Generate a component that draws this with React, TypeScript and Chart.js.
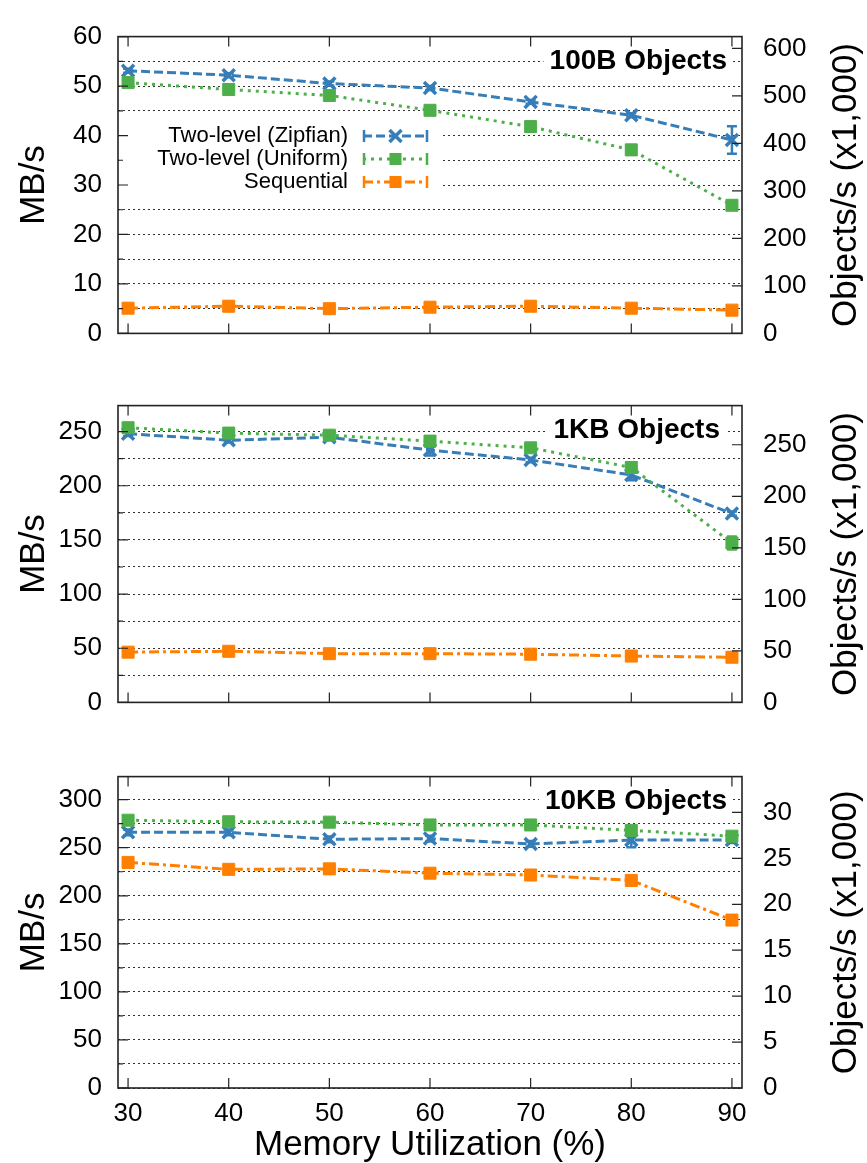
import React, { useEffect, useRef } from 'react';
import { Chart, registerables } from 'chart.js';

Chart.register(...registerables);

const FONT = '"Liberation Sans", Arial, Helvetica, sans-serif';
const W = 867;
const AREA_LEFT = 118;
const AREA_RIGHT = 742;
const AREA_TOP = 21;
const AREA_BOTTOM = 348;

// x axis: memory utilization (%)
const memUtil = [30, 40, 50, 60, 70, 80, 90];
const xMin = 29;
const xMax = 91;
const xTickStep = 10;

const seriesNames = ['Two-level (Zipfian)', 'Two-level (Uniform)', 'Sequential'];
const seriesColors = ['#377eb8', '#4daf4a', '#ff7f00'];

const panelTitles = ['100B Objects', '1KB Objects', '10KB Objects'];
const leftTitle = 'MB/s';
const rightTitle = 'Objects/s (x1,000)';
const xTitle = 'Memory Utilization (%)';

// 100B objects (MB/s)
const zipf100 = [53.1, 52.2, 50.5, 49.6, 46.8, 44.1, 39.1];
const zipf100Err = [0.4, 0.4, 0.4, 0.4, 0.4, 0.4, 2.8];
const unif100 = [50.7, 49.3, 48.1, 45.1, 41.8, 37.1, 25.9];
const unif100Err = [0.4, 0.4, 0.4, 0.4, 0.4, 0.4, 0.4];
const seq100 = [5.1, 5.5, 5.0, 5.3, 5.5, 5.1, 4.7];
const seq100Err = [0.2, 0.2, 0.2, 0.2, 0.2, 0.2, 0.2];

// 1KB objects (MB/s)
const zipf1k = [248, 242, 244.8, 232.9, 223.8, 210, 174.3];
const zipf1kErr = [2, 2, 2, 5, 2, 5, 2];
const unif1k = [253.6, 248.6, 246.7, 241.2, 235, 216.9, 147.2];
const unif1kErr = [2, 2, 2, 2, 2, 2, 6];
const seq1k = [46.4, 47.2, 45, 45, 44.5, 42.8, 41.7];
const seq1kErr = [1, 1, 1, 1, 1, 1, 1];

// 10KB objects (MB/s)
const zipf10k = [266, 266, 258.8, 259.5, 253.9, 258, 258];
const zipf10kErr = [3, 3, 3, 3, 3, 7.4, 3];
const unif10k = [278.6, 277, 276.6, 273.7, 273.7, 268, 262];
const unif10kErr = [2, 2, 2, 3, 2, 2, 2];
const seq10k = [234.7, 227.5, 228, 223.5, 221.6, 216, 174.7];
const seq10kErr = [1, 1, 1, 1, 1, 1, 1];

// axes
const leftMax = [60, 274, 324];
const leftStep = [5, 25, 25];
const leftLabelStep = [10, 50, 50];
const rightMax = [625, 288, 33.9];
const rightStep = [100, 50, 5];

const panelTops = [0, 369, 740];
const panelHeights = [370, 370, 423];
const titleRights = [727, 720, 727];

const panels = [
  { zipf: zipf100, zipfErr: zipf100Err, unif: unif100, unifErr: unif100Err, seq: seq100, seqErr: seq100Err },
  { zipf: zipf1k, zipfErr: zipf1kErr, unif: unif1k, unifErr: unif1kErr, seq: seq1k, seqErr: seq1kErr },
  { zipf: zipf10k, zipfErr: zipf10kErr, unif: unif10k, unifErr: unif10kErr, seq: seq10k, seqErr: seq10kErr },
];

const dashes = [[9, 4], [3, 5], [10, 4, 3, 4]];
const pointStyles = ['crossRot', 'rect', 'rect'];
const pointRadii = [8.5, 8.5, 8.5];

function drawMarker(ctx: CanvasRenderingContext2D, style: string, x: number, y: number, r: number, color: string) {
  ctx.save();
  ctx.setLineDash([]);
  ctx.fillStyle = color;
  ctx.strokeStyle = color;
  if (style === 'crossRot') {
    const o = r * Math.SQRT1_2;
    ctx.lineWidth = 3.5;
    ctx.beginPath();
    ctx.moveTo(x - o, y - o);
    ctx.lineTo(x + o, y + o);
    ctx.moveTo(x - o, y + o);
    ctx.lineTo(x + o, y - o);
    ctx.stroke();
  } else {
    const s = r * Math.SQRT1_2;
    ctx.fillRect(x - s, y - s, 2 * s, 2 * s);
  }
  ctx.restore();
}

const errorBarPlugin = {
  id: 'errorBars',
  afterDatasetDraw(chart: any, args: any) {
    const ds = chart.data.datasets[args.index];
    const errs: number[] = ds.errorBars;
    if (!errs) return;
    const yScale = chart.scales[ds.yAxisID || 'y'];
    const ctx = chart.ctx;
    ctx.save();
    ctx.strokeStyle = ds.borderColor;
    ctx.lineWidth = 2.5;
    ctx.setLineDash([]);
    args.meta.data.forEach((pt: any, i: number) => {
      const v = ds.data[i].y;
      const e = errs[i];
      const y1 = yScale.getPixelForValue(v - e);
      const y2 = yScale.getPixelForValue(v + e);
      ctx.beginPath();
      ctx.moveTo(pt.x, y1);
      ctx.lineTo(pt.x, y2);
      ctx.moveTo(pt.x - 5, y1);
      ctx.lineTo(pt.x + 5, y1);
      ctx.moveTo(pt.x - 5, y2);
      ctx.lineTo(pt.x + 5, y2);
      ctx.stroke();
    });
    ctx.restore();
  },
};

const framePlugin = {
  id: 'frame',
  beforeDatasetsDraw(chart: any, _a: any, o: any) {
    const { ctx, chartArea: a } = chart;
    ctx.save();
    ctx.fillStyle = '#ffffff';
    ctx.font = `bold 28px ${FONT}`;
    const tw = ctx.measureText(o.title).width;
    ctx.fillRect(o.titleRight - tw - 6, a.top + 11, tw + 12, 27);
    if (o.legend) {
      ctx.fillRect(a.left + 1, 113, 440 - a.left, 87);
    }
    ctx.restore();
  },
  afterDraw(chart: any, _a: any, o: any) {
    const { ctx, chartArea: a, scales } = chart;
    const xs = scales.x;
    const ys = scales.y;
    const ys2 = scales.y2;
    ctx.save();
    ctx.setLineDash([]);
    ctx.strokeStyle = '#222';
    ctx.lineWidth = 1.2;
    ctx.beginPath();
    xs.ticks.forEach((t: any) => {
      const px = xs.getPixelForValue(t.value);
      ctx.moveTo(px, a.bottom);
      ctx.lineTo(px, a.bottom - 10);
      ctx.moveTo(px, a.top);
      ctx.lineTo(px, a.top + 10);
    });
    ys.ticks.forEach((t: any) => {
      const py = ys.getPixelForValue(t.value);
      const len = t.value % o.labelStep === 0 ? 10 : 5;
      ctx.moveTo(a.left, py);
      ctx.lineTo(a.left + len, py);
    });
    ys2.ticks.forEach((t: any) => {
      const py = ys2.getPixelForValue(t.value);
      ctx.moveTo(a.right, py);
      ctx.lineTo(a.right - 10, py);
    });
    ctx.stroke();
    ctx.lineWidth = 1.6;
    ctx.strokeRect(a.left, a.top, a.right - a.left, a.bottom - a.top);

    // panel title
    ctx.fillStyle = '#000';
    ctx.font = `bold 28px ${FONT}`;
    ctx.textAlign = 'right';
    ctx.textBaseline = 'middle';
    ctx.fillText(o.title, o.titleRight, a.top + 25);

    // axis titles
    const midY = (a.top + a.bottom) / 2;
    ctx.font = `35px ${FONT}`;
    ctx.textAlign = 'center';
    ctx.save();
    ctx.translate(34, midY);
    ctx.rotate(-Math.PI / 2);
    ctx.fillText(leftTitle, 0, 0);
    ctx.restore();
    ctx.save();
    ctx.translate(846, midY);
    ctx.rotate(-Math.PI / 2);
    ctx.fillText(rightTitle, 0, 0);
    ctx.restore();
    if (o.xTitle) {
      ctx.fillText(xTitle, (a.left + a.right) / 2, a.bottom + 57);
    }

    // legend
    if (o.legend) {
      const rows = [136, 159, 182];
      chart.data.datasets.forEach((ds: any, i: number) => {
        const y = rows[i];
        ctx.font = `22px ${FONT}`;
        ctx.textAlign = 'right';
        ctx.fillStyle = '#000';
        ctx.fillText(seriesNames[i], 348, y);
        ctx.strokeStyle = ds.borderColor;
        ctx.lineWidth = 3;
        ctx.setLineDash(dashes[i]);
        ctx.beginPath();
        ctx.moveTo(363, y);
        ctx.lineTo(428, y);
        ctx.stroke();
        ctx.setLineDash([]);
        ctx.lineWidth = 2.5;
        ctx.beginPath();
        ctx.moveTo(364, y - 6);
        ctx.lineTo(364, y + 6);
        ctx.moveTo(427, y - 6);
        ctx.lineTo(427, y + 6);
        ctx.stroke();
        drawMarker(ctx, pointStyles[i], 395.5, y, pointRadii[i], ds.borderColor);
      });
    }
    ctx.restore();
  },
};

function buildConfig(idx: number): any {
  const p = panels[idx];
  const H = panelHeights[idx];
  const showX = idx === panels.length - 1;
  const values = [p.zipf, p.unif, p.seq];
  const errs = [p.zipfErr, p.unifErr, p.seqErr];
  const orders = [3, 2, 1];
  const tickFont = { family: FONT, size: 26 };
  return {
    type: 'line',
    data: {
      datasets: values.map((vals, i) => ({
        label: seriesNames[i],
        data: memUtil.map((x, j) => ({ x, y: vals[j] })),
        errorBars: errs[i],
        yAxisID: 'y',
        borderColor: seriesColors[i],
        backgroundColor: seriesColors[i],
        borderWidth: 3,
        borderDash: dashes[i],
        pointStyle: pointStyles[i],
        pointRadius: pointRadii[i],
        pointBorderWidth: i === 0 ? 3.5 : 1,
        pointBorderColor: seriesColors[i],
        pointBackgroundColor: seriesColors[i],
        fill: false,
        tension: 0,
        order: orders[i],
      })),
    },
    options: {
      responsive: false,
      animation: false,
      events: [],
      layout: { padding: { top: AREA_TOP, left: 0, right: 0, bottom: 0 } },
      plugins: {
        legend: { display: false },
        tooltip: { enabled: false },
        title: { display: false },
        frame: {
          title: panelTitles[idx],
          titleRight: titleRights[idx],
          legend: idx === 0,
          xTitle: showX,
          labelStep: leftLabelStep[idx],
        },
      },
      scales: {
        x: {
          type: 'linear',
          position: 'bottom',
          min: xMin,
          max: xMax,
          afterFit: (s: any) => {
            s.height = H - AREA_BOTTOM;
          },
          grid: { display: false, drawTicks: false },
          border: { display: false },
          ticks: {
            display: showX,
            stepSize: xTickStep,
            includeBounds: false,
            autoSkip: false,
            maxRotation: 0,
            padding: 10,
            color: '#000',
            font: tickFont,
            callback: (v: any) => String(v),
          },
        },
        y: {
          type: 'linear',
          position: 'left',
          min: 0,
          max: leftMax[idx],
          afterFit: (s: any) => {
            s.width = AREA_LEFT;
          },
          grid: { color: '#333', lineWidth: 1, drawTicks: false },
          border: { display: false, dash: [2, 3] },
          ticks: {
            stepSize: leftStep[idx],
            includeBounds: false,
            autoSkip: false,
            padding: 16,
            color: '#000',
            font: tickFont,
            callback: (v: any) => (v % leftLabelStep[idx] === 0 ? String(v) : ''),
          },
        },
        y2: {
          type: 'linear',
          position: 'right',
          min: 0,
          max: rightMax[idx],
          afterFit: (s: any) => {
            s.width = W - AREA_RIGHT;
          },
          grid: { display: false, drawTicks: false },
          border: { display: false },
          ticks: {
            stepSize: rightStep[idx],
            includeBounds: false,
            autoSkip: false,
            padding: 21,
            color: '#000',
            font: tickFont,
            callback: (v: any) => String(v),
          },
        },
      },
    },
    plugins: [framePlugin, errorBarPlugin],
  };
}

function Panel({ idx }: { idx: number }) {
  const ref = useRef<HTMLCanvasElement>(null);
  useEffect(() => {
    if (!ref.current) return;
    const chart = new Chart(ref.current, buildConfig(idx));
    return () => chart.destroy();
  }, [idx]);
  return (
    <canvas
      ref={ref}
      width={W}
      height={panelHeights[idx]}
      style={{
        position: 'absolute',
        left: 0,
        top: panelTops[idx],
        width: W,
        height: panelHeights[idx],
        display: 'block',
      }}
    />
  );
}

export default function App() {
  return (
    <div
      style={{
        position: 'absolute',
        left: 0,
        top: 0,
        width: W,
        height: 1163,
        background: '#fff',
        overflow: 'hidden',
      }}
    >
      {panels.map((_, i) => (
        <Panel key={i} idx={i} />
      ))}
    </div>
  );
}
